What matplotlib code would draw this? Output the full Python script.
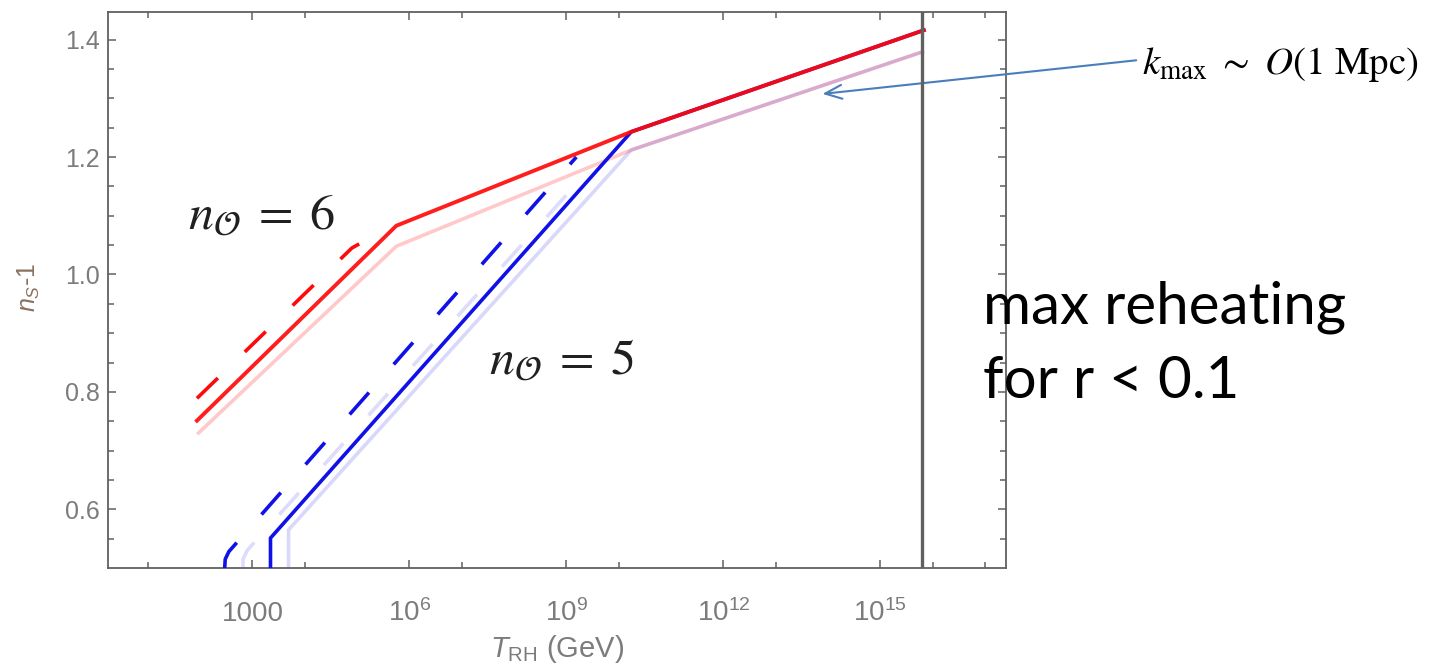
import numpy as np
import matplotlib
matplotlib.use("Agg")
import matplotlib.pyplot as plt

# log10(T_RH / GeV) and n_s - 1
red_solid_logT = [1.94, 5.75, 10.24, 15.83]
red_solid_ns = [0.751, 1.083, 1.243, 1.416]
red_dash_logT = [1.94, 4.90, 5.04]
red_dash_ns = [0.789, 1.045, 1.052]
red_faint_logT = [1.97, 5.75, 10.24, 15.80]
red_faint_ns = [0.730, 1.048, 1.212, 1.379]

blue_solid_logT = [3.345, 3.345, 10.24, 15.83]
blue_solid_ns = [0.50, 0.551, 1.243, 1.416]
blue_dash_logT = [2.47, 2.48, 2.55, 9.19]
blue_dash_ns = [0.50, 0.515, 0.528, 1.20]
blue_faint_logT = [3.69, 3.69, 10.24, 15.80]
blue_faint_ns = [0.50, 0.565, 1.212, 1.379]
blue_faint_dash_logT = [2.82, 2.82, 2.90, 9.35]
blue_faint_dash_ns = [0.50, 0.515, 0.530, 1.17]

logT_max = 15.8  # max reheating for r < 0.1

xmajor = [3, 6, 9, 12, 15]
xmajor_labels = ["1000", "$10^{6}$", "$10^{9}$", "$10^{12}$", "$10^{15}$"]
xminor = [1, 4, 7, 10, 13, 16, 17]
yticks = [0.6, 0.8, 1.0, 1.2, 1.4]

plt.rcParams["lines.scale_dashes"] = False
plt.rcParams["mathtext.fontset"] = "custom"
plt.rcParams["mathtext.rm"] = "Liberation Sans"
plt.rcParams["mathtext.it"] = "Liberation Sans:italic"
plt.rcParams["font.family"] = "Liberation Sans"

W, H = 1434, 666
fig = plt.figure(figsize=(W / 100, H / 100), dpi=100)
ax = fig.add_axes([108 / W, 98 / H, 898 / W, 556 / H])

def T(v):
    return 10 ** np.asarray(v, dtype=float)

red = "#ff0a0a"
blue = "#1010e8"
dash = (0, (21, 27))

# faint curves
ax.plot(T(red_faint_logT), red_faint_ns, color=red, alpha=0.22, lw=2.6, zorder=2)
ax.plot(T(blue_faint_logT), blue_faint_ns, color=blue, alpha=0.16, lw=2.6, zorder=2)
ax.plot(T(blue_faint_dash_logT), blue_faint_dash_ns, color=blue, alpha=0.14, lw=2.6,
        linestyle=dash, zorder=2)

# main curves
ax.plot(T(blue_solid_logT), blue_solid_ns, color=blue, lw=2.6, zorder=3)
ax.plot(T(blue_dash_logT), blue_dash_ns, color=blue, lw=2.6, linestyle=dash, zorder=3)
ax.plot(T(red_solid_logT), red_solid_ns, color=red, lw=2.8, alpha=0.92, zorder=4)
ax.plot(T(red_dash_logT), red_dash_ns, color=red, lw=2.6, linestyle=dash, zorder=4)

ax.axvline(10 ** logT_max, color="#606060", lw=2.4, zorder=5)

ax.set_xscale("log")
ax.set_xlim(10 ** 0.24, 10 ** 17.4)
ax.set_ylim(0.5, 1.447)
ax.set_xticks(T(xmajor))
ax.set_xticklabels(xmajor_labels)
ax.set_xticks(T(xminor), minor=True)
ax.set_xticklabels([], minor=True)
ax.set_yticks(yticks)
ax.set_yticklabels(["%.1f" % v for v in yticks])
ax.set_yticks(np.arange(0.55, 1.44, 0.05), minor=True)

gray = "#7c7c7c"
for s in ax.spines.values():
    s.set_color("#606060")
    s.set_linewidth(1.3)
ax.tick_params(which="both", direction="in", top=True, right=True,
               color="#606060", labelcolor=gray, width=1.1)
ax.tick_params(which="major", length=6)
ax.tick_params(which="minor", length=4)
ax.tick_params(axis="y", labelsize=18, pad=6)
ax.tick_params(axis="x", labelsize=20, pad=38)
for lab in ax.get_xticklabels():
    lab.set_va("baseline")

ax.set_xlabel(r"$T_{\mathrm{RH}}$ (GeV)", fontsize=21, color=gray)
ax.xaxis.set_label_coords(0.5, -0.117)
ax.set_ylabel(r"$n_S$-1", fontsize=18, color="#8a7060")
ax.yaxis.set_label_coords(-0.0735, 0.505)

# curve labels
ax.text(T(1.77), 1.078, r"$n_{\mathcal{O}}\;=\;6$", fontsize=36, color="#202020",
        math_fontfamily="stix", ha="left", va="baseline")
ax.text(T(7.52), 0.831, r"$n_{\mathcal{O}}\;=\;5$", fontsize=36, color="#202020",
        math_fontfamily="stix", ha="left", va="baseline")

# k_max annotation
ax.annotate("", xy=(T(13.84), 1.307), xytext=(1139, H - 60),
            textcoords="figure pixels", annotation_clip=False,
            arrowprops=dict(arrowstyle="->,head_length=1.2,head_width=0.5",
                            color="#4a7ebb", lw=1.5))
fig.text(1142 / W, 1 - 64 / H, r"$k_{\rm max}\ \sim\ O(1\ {\rm Mpc})$", fontsize=28,
         math_fontfamily="stix", ha="left", va="center", color="black")

fig.text(983 / W, 1 - 323 / H, "max reheating", fontsize=42, family="Lato",
         ha="left", va="baseline", color="black")
fig.text(983 / W, 1 - 398 / H, "for r < 0.1", fontsize=42, family="Lato",
         ha="left", va="baseline", color="black")

fig.savefig("out.png", dpi=100)
